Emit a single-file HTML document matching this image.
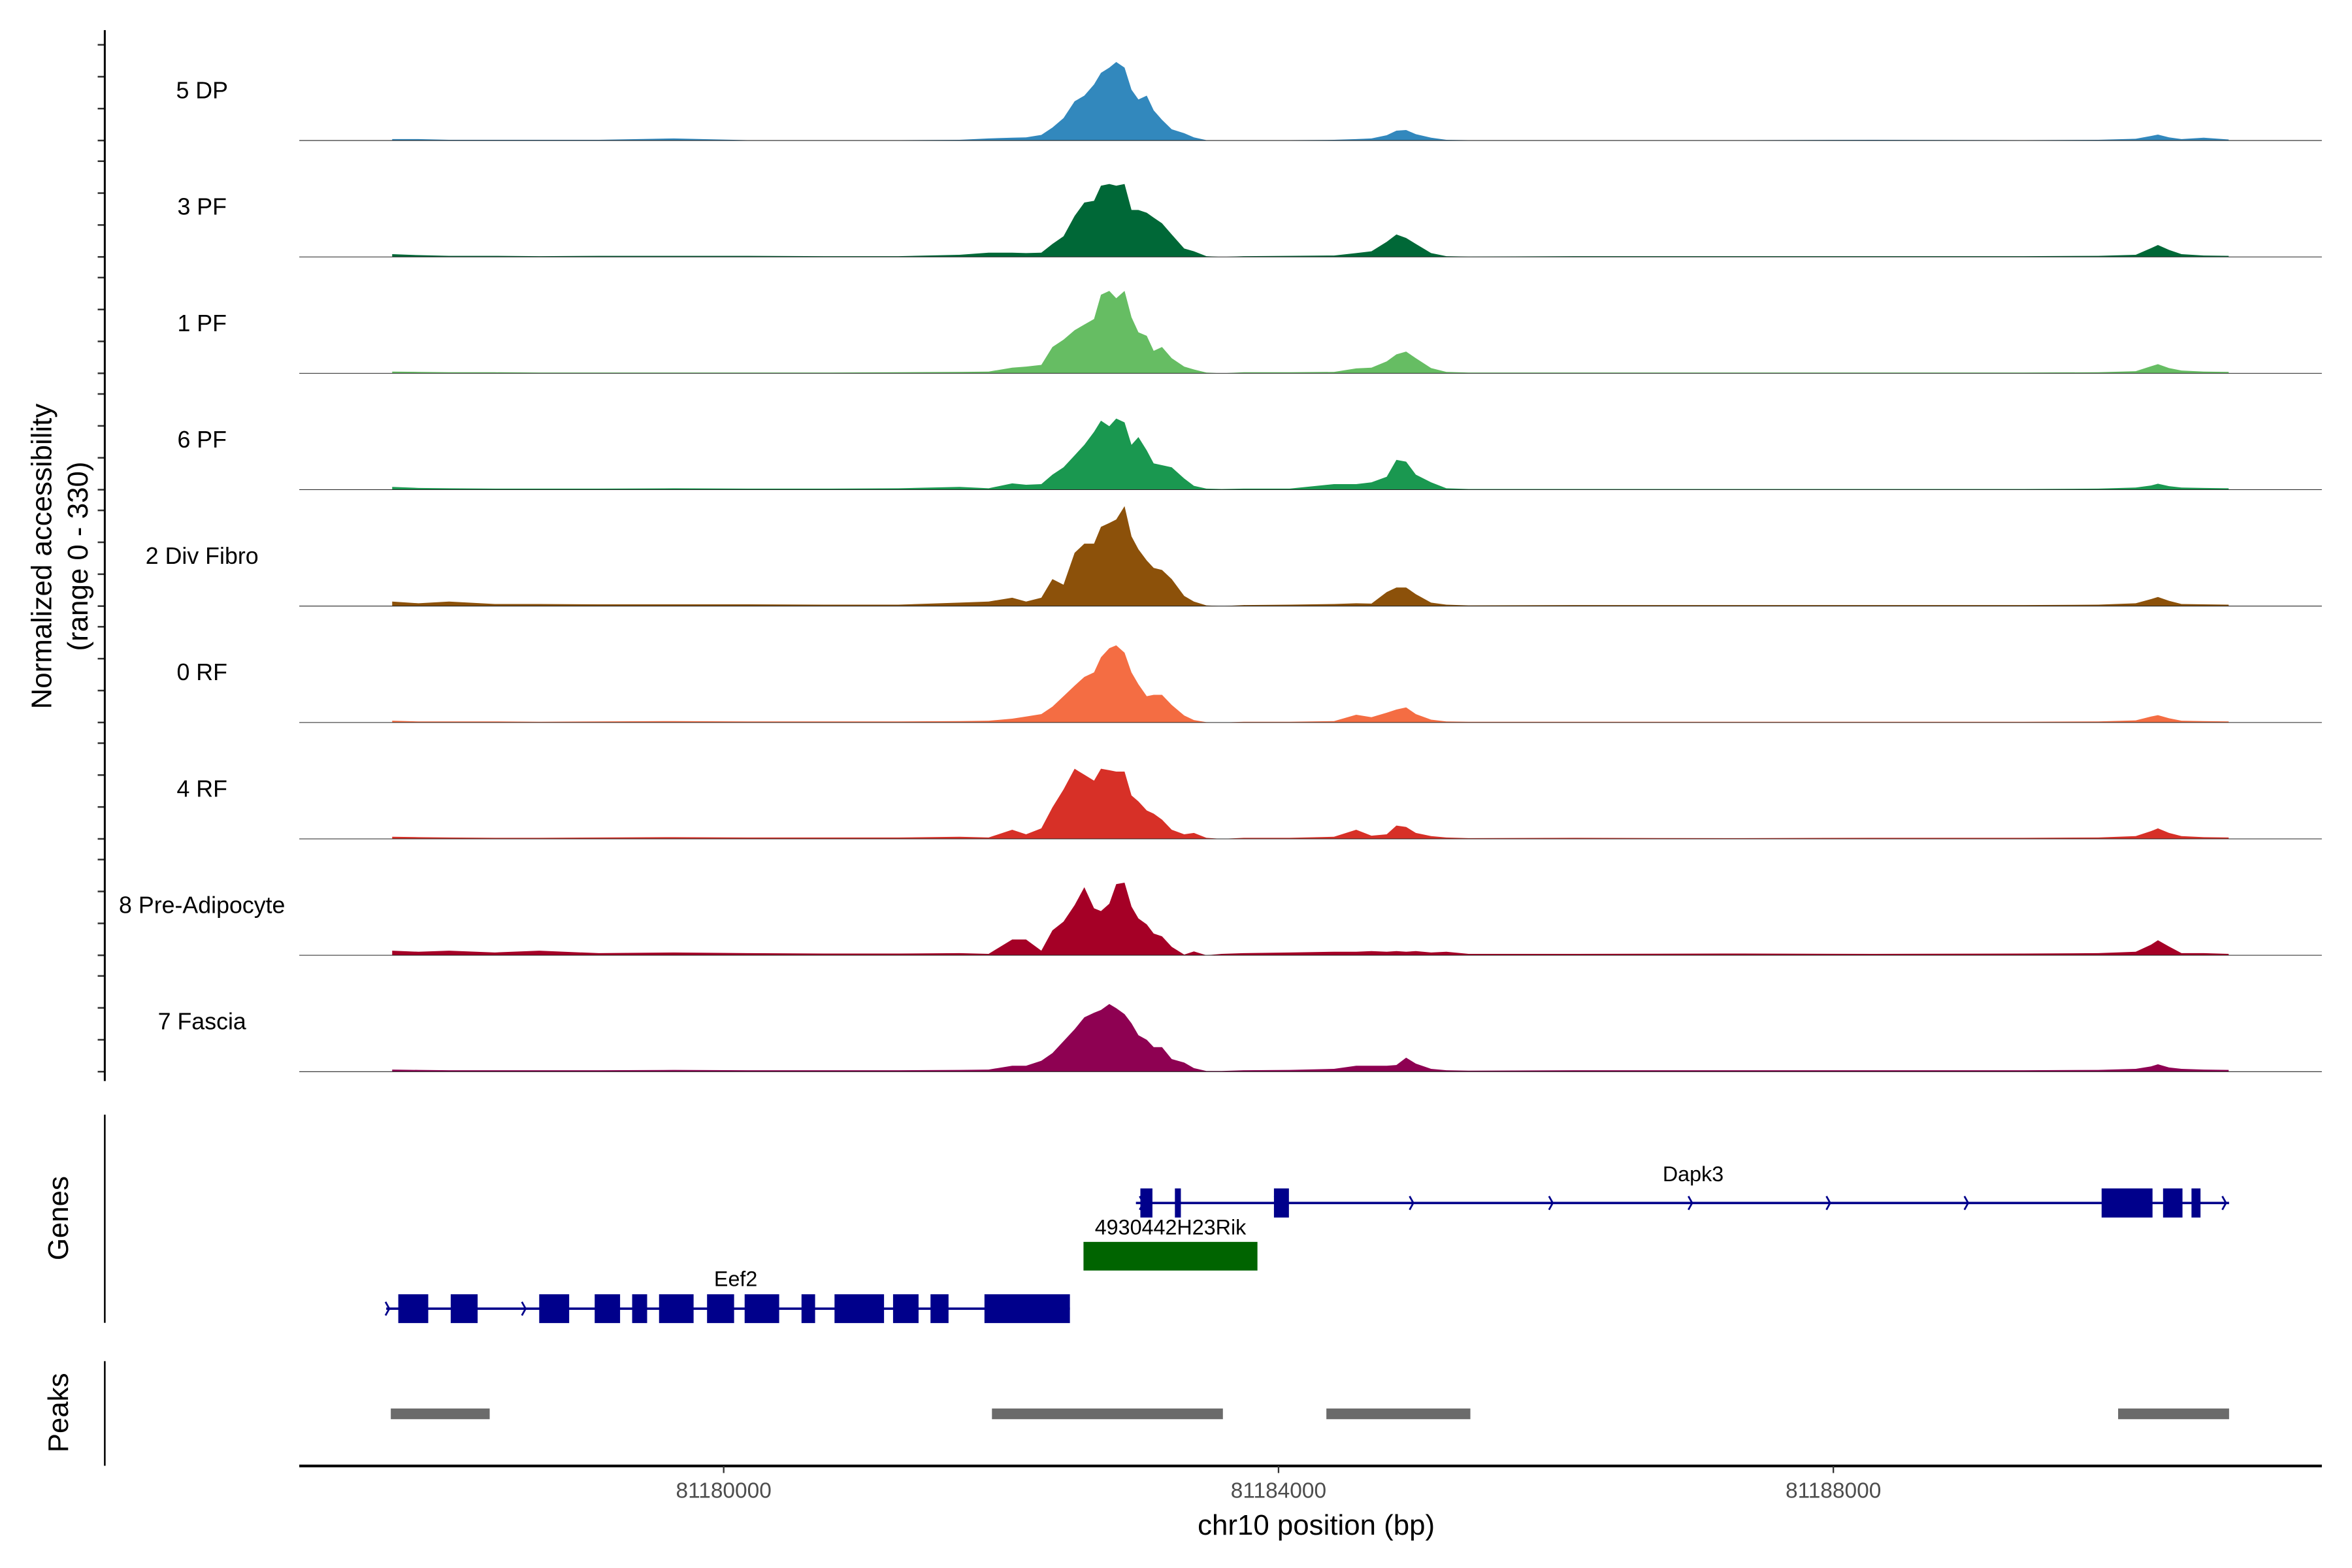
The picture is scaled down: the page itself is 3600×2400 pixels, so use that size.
<!DOCTYPE html>
<html><head><meta charset="utf-8"><title>Coverage plot</title>
<style>html,body{margin:0;padding:0;background:#fff}svg{display:block}text{font-family:"Liberation Sans",Arial,sans-serif}</style>
</head><body>
<svg id="chart" width="3600" height="2400" viewBox="0 0 1560 1040" preserveAspectRatio="none" xmlns="http://www.w3.org/2000/svg">
<g id="tracks"></g>
<g id="genes"></g>
<g id="peaks"></g>
<g id="axes"></g>
<text transform="translate(34,369) rotate(-90)" text-anchor="middle" font-size="19" fill="#000">Normalized accessibility</text>
<text transform="translate(58,369) rotate(-90)" text-anchor="middle" font-size="19" fill="#000">(range 0 - 330)</text>
<text transform="translate(45,808) rotate(-90)" text-anchor="middle" font-size="19" fill="#000">Genes</text>
<text transform="translate(45,937) rotate(-90)" text-anchor="middle" font-size="19" fill="#000">Peaks</text>
<text x="873" y="1018" text-anchor="middle" font-size="19" fill="#000">chr10 position (bp)</text>
</svg>
<script>
const positions = [81177610,81177800,81178020,81178350,81178670,81179100,81179640,81180180,81180720,81181260,81181700,81181910,81182080,81182180,81182290,81182370,81182450,81182530,81182600,81182670,81182720,81182780,81182830,81182890,81182940,81182990,81183050,81183100,81183160,81183230,81183320,81183390,81183480,81183590,81183750,81184080,81184400,81184560,81184670,81184780,81184850,81184920,81184990,81185100,81185210,81185370,81186130,81187210,81188290,81189370,81189910,81190180,81190290,81190340,81190420,81190510,81190670,81190850];
const trackNames = ["5 DP","3 PF","1 PF","6 PF","2 Div Fibro","0 RF","4 RF","8 Pre-Adipocyte","7 Fascia"];
const trackColors = ["#3288BD","#006837","#66BD63","#1A9850","#8C510A","#F46D43","#D73027","#A50026","#8E0152"];
const dp5 = [4,4,2,2,2,2,6,1,1,1,2,6,8,9,16,37,64,112,128,160,193,208,224,208,145,117,128,86,59,32,21,9,1,0,1,1,2,4,6,15,28,30,18,8,2,1,1,1,2,1,2,5,13,17,9,4,8,3];
const pf3 = [8,5,3,3,2,3,3,3,2,2,6,12,12,11,12,37,59,117,155,160,203,208,203,208,134,134,126,112,96,64,24,16,2,0,2,3,4,11,16,43,64,54,37,11,2,1,2,2,2,2,3,6,25,34,20,8,4,3];
const pf1 = [5,4,3,3,2,2,2,2,2,3,4,5,16,19,24,75,96,123,139,155,224,235,214,235,160,117,107,64,75,43,19,11,2,0,3,3,4,14,16,34,54,62,43,15,4,2,2,2,2,2,3,6,20,26,15,8,5,4];
const pf6 = [8,5,4,3,3,3,4,3,3,4,8,4,18,14,16,43,64,98,128,165,197,181,203,192,128,150,112,75,70,64,32,11,3,2,3,3,16,16,21,37,85,80,43,21,4,2,2,2,2,2,3,6,12,17,10,6,5,4];
const divFibro2 = [13,8,13,6,6,5,5,5,4,4,10,13,24,13,24,77,61,152,178,178,226,237,247,285,199,162,130,109,103,77,29,13,2,0,3,4,6,8,7,40,53,53,34,10,4,2,3,3,3,3,4,8,20,26,15,6,5,4];
const rf0 = [5,3,3,3,2,3,4,3,3,3,4,5,11,17,24,45,75,105,130,143,186,212,220,199,143,109,75,79,79,50,20,7,1,0,2,2,4,22,15,28,37,43,24,8,3,2,2,2,2,2,3,6,17,21,12,5,4,3];
const rf4 = [6,5,4,3,3,4,5,4,4,4,6,4,26,13,30,90,141,200,183,166,200,196,192,192,124,107,81,72,55,26,13,17,3,0,3,3,6,26,9,13,38,34,17,8,4,2,3,2,3,3,4,8,22,30,17,8,5,4];
const preAdipo8 = [13,10,13,8,13,6,8,6,5,5,6,4,45,45,13,71,96,143,194,134,126,147,203,207,139,105,88,62,54,24,2,11,0,4,6,8,10,10,12,10,12,10,12,8,10,4,4,5,4,5,6,10,30,43,25,6,6,4];
const fascia7 = [6,5,4,4,4,4,5,4,4,4,5,6,17,17,31,53,87,121,155,168,176,193,181,164,138,104,91,70,70,36,26,10,2,2,4,5,8,17,17,17,19,40,23,8,4,3,4,4,4,4,5,8,15,21,12,8,6,5];
const trackValues = [dp5,pf3,pf1,pf6,divFibro2,rf0,rf4,preAdipo8,fascia7];
const xTicks = [81180000,81184000,81188000];
const xTickLabels = ["81180000","81184000","81188000"];
const yTickValues = [0,91,182,273];
const eef2Exons = [[81177654,81177870],[81178032,81178226],[81178670,81178886],[81179070,81179253],[81179340,81179448],[81179534,81179783],[81179880,81180075],[81180151,81180400],[81180561,81180659],[81180799,81181156],[81181221,81181405],[81181491,81181621],[81181880,81182496]];
const eef2Span = [81177567,81182496];
const eef2Arrows = [81177589,81178572];
const dapk3Exons = [[81183004,81183091],[81183253,81183296],[81183967,81184075],[81189934,81190301],[81190377,81190517],[81190582,81190647]];
const dapk3Span = [81182972,81190853];
const dapk3Arrows = [81183026,81183999,81184972,81185977,81186982,81187977,81188972,81190831];
const rikSpan = [81182594,81183848];
const peakRegions = [[81177600,81178313],[81181934,81183599],[81184345,81185383],[81190053,81190853]];

const NS = "http://www.w3.org/2000/svg";
function xS(bp){ return 480 + (bp - 81180000) * 0.092; }
const TRACK0 = 93.2, TRACKSTEP = 77.2, PXPERUNIT = 1/4.3;
function yS(i, v){ return TRACK0 + TRACKSTEP*i - v*PXPERUNIT; }
function mk(tag, attrs, parent){ const e=document.createElementNS(NS,tag); for(const k in attrs) e.setAttribute(k,attrs[k]); parent.appendChild(e); return e; }

const tracks = document.getElementById('tracks');
const axes = document.getElementById('axes');
trackValues.forEach((vals, i) => {
  const base = yS(i, 0);
  let d = "M" + xS(positions[0]) + "," + base;
  vals.forEach((v, j) => { d += " L" + xS(positions[j]).toFixed(2) + "," + yS(i, v).toFixed(2); });
  d += " L" + xS(positions[positions.length-1]) + "," + base + " Z";
  const p = mk('path', {d: d, fill: trackColors[i]}, tracks);
  
  
  const bl = mk('line', {x1:198.5, x2:1540, y1:base, y2:base, stroke:'#222', 'stroke-width':0.45}, tracks);
  
  
  const lbl = mk('text', {x:134, y:base-28, 'text-anchor':'middle', 'font-size':15.5, fill:'#000'}, tracks);
  lbl.textContent = trackNames[i];
  
  
  yTickValues.forEach(tv => {
    const t = mk('line', {x1:64.8, x2:69.5, y1:yS(i,tv), y2:yS(i,tv), stroke:'#333', 'stroke-width':1.1}, axes);
    
    
  });
});
const ya = mk('line', {x1:69.5, x2:69.5, y1:20, y2:717, stroke:'#000', 'stroke-width':1.3}, axes);


const ga = mk('line', {x1:69.5, x2:69.5, y1:739.3, y2:877.4, stroke:'#000', 'stroke-width':1.1}, axes);


const pa = mk('line', {x1:69.5, x2:69.5, y1:902.8, y2:972.2, stroke:'#000', 'stroke-width':1.1}, axes);


const xa = mk('line', {x1:198.5, x2:1540, y1:972.3, y2:972.3, stroke:'#000', 'stroke-width':1.8}, axes);


xTicks.forEach((t, k) => {
  const tl = mk('line', {x1:xS(t), x2:xS(t), y1:972.3, y2:977, stroke:'#333', 'stroke-width':1}, axes);
  
  
  const tx = mk('text', {x:xS(t), y:993.5, 'text-anchor':'middle', 'font-size':14.5, fill:'#4d4d4d'}, axes);
  tx.textContent = xTickLabels[k];
  
  
});
const genes = document.getElementById('genes');
const NAVY = '#00008B';
function drawGene(name, span, exons, arrows, yLine, h, labelX, labelY){
  const g = mk('g', {}, genes);
  
  
  mk('line', {x1:xS(span[0]), x2:xS(span[1]), y1:yLine, y2:yLine, stroke:NAVY, 'stroke-width':1.6}, g);
  exons.forEach(e => {
    const r = mk('rect', {x:xS(e[0]), y:yLine-h/2, width:xS(e[1])-xS(e[0]), height:h, fill:NAVY}, g);
    
    
  });
  arrows.forEach(a => {
    const x = xS(a);
    const c = mk('polyline', {points:(x-2.5)+","+(yLine-4.5)+" "+x+","+yLine+" "+(x-2.5)+","+(yLine+4.5), fill:'none', stroke:NAVY, 'stroke-width':1.2}, g);
    
    
  });
  const t = mk('text', {x:labelX, y:labelY, 'text-anchor':'middle', 'font-size':14, fill:'#000'}, g);
  t.textContent = name;
  
  
}
drawGene('Dapk3', dapk3Span, dapk3Exons, dapk3Arrows, 797.9, 19.3, 1123, 783.5);
drawGene('Eef2', eef2Span, eef2Exons, eef2Arrows, 868, 19.1, 488, 853);
const rg = mk('g', {}, genes);


mk('rect', {x:xS(rikSpan[0]), y:823.7, width:xS(rikSpan[1])-xS(rikSpan[0]), height:19, fill:'#006400'}, rg);
const rt = mk('text', {x:(xS(rikSpan[0])+xS(rikSpan[1]))/2, y:818.8, 'text-anchor':'middle', 'font-size':14, fill:'#000'}, rg);
rt.textContent = '4930442H23Rik';


const peaks = document.getElementById('peaks');
peakRegions.forEach(p => {
  const r = mk('rect', {x:xS(p[0]), y:934.2, width:xS(p[1])-xS(p[0]), height:7.1, fill:'#6B6B6B'}, peaks);
  
  
});
</script>
</body></html>
